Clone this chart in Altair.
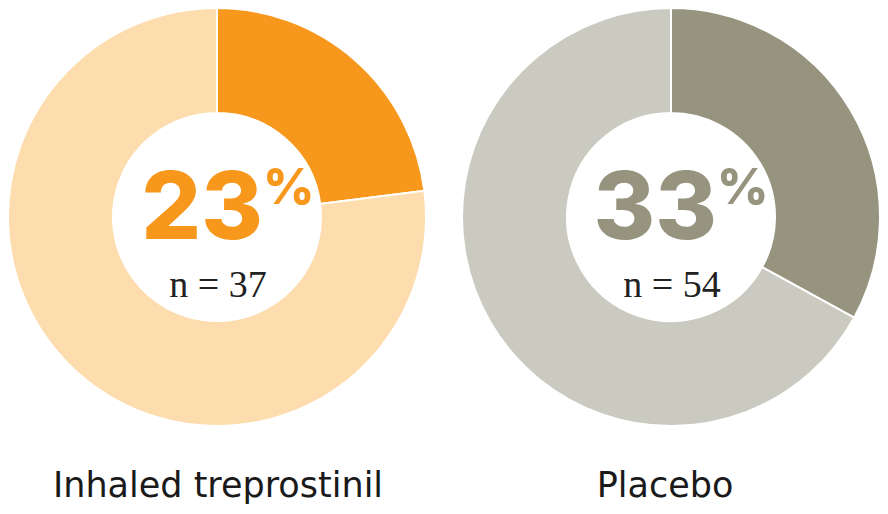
import altair as alt
import pandas as pd

groups = ["Inhaled treprostinil", "Placebo"]
pct = [23, 33]
n_vals = [37, 54]

dark = ["#F7981D", "#96937E"]
light = ["#FDDCAE", "#CACAC0"]

# layout constants (chart pixel coords)
cx = [209, 663]
cy = 209
R_OUT, R_IN = 209, 104
label_dx = [1, -6]


def donut(i):
    df = pd.DataFrame({
        "segment": ["share", "rest"],
        "value": [pct[i], 100 - pct[i]],
        "order": [0, 1],
        "color": [dark[i], light[i]],
    })
    arc = alt.Chart(df).mark_arc(outerRadius=R_OUT, innerRadius=R_IN, stroke="white", strokeWidth=2).encode(
        theta=alt.Theta("value:Q", stack=True, scale=alt.Scale(domain=[0, 100], range=[0, 6.283185307179586])),
        color=alt.Color("color:N", scale=None, legend=None),
        order=alt.Order("order:Q"),
        x=alt.value(cx[i]),
        y=alt.value(cy),
    )
    tdf = pd.DataFrame({
        "pct": [str(pct[i])],
        "sign": ["%"],
        "n": [f"n = {n_vals[i]}"],
        "label": [groups[i]],
    })
    t = alt.Chart(tdf)
    big = t.mark_text(font="Inter", fontWeight=800, fontSize=94, color=dark[i], align="right",
                      baseline="alphabetic").encode(text="pct:N", x=alt.value(cx[i] + 46), y=alt.value(cy + 22))
    sign = t.mark_text(font="Inter", fontWeight=800, fontSize=50, color=dark[i], align="left",
                       baseline="alphabetic").encode(text="sign:N", x=alt.value(cx[i] + 46), y=alt.value(cy - 13))
    nn = t.mark_text(font="Liberation Serif", fontSize=38, color="#222222", align="center",
                     baseline="alphabetic").encode(text="n:N", x=alt.value(cx[i] + 1), y=alt.value(cy + 80))
    lab = t.mark_text(font="DejaVu Sans", fontSize=35, color="#1a1a1a", align="center",
                      baseline="alphabetic").encode(text="label:N", x=alt.value(cx[i] + label_dx[i]), y=alt.value(489))
    return [arc, big, sign, nn, lab]


layers = donut(0) + donut(1)
chart = alt.layer(*layers).properties(
    width=872, height=498,
    padding=0,
    autosize=alt.AutoSizeParams(type="none"),
    background="white",
).configure_view(stroke=None)

chart.save("out.html", embed_options={"renderer": "svg", "actions": False})
